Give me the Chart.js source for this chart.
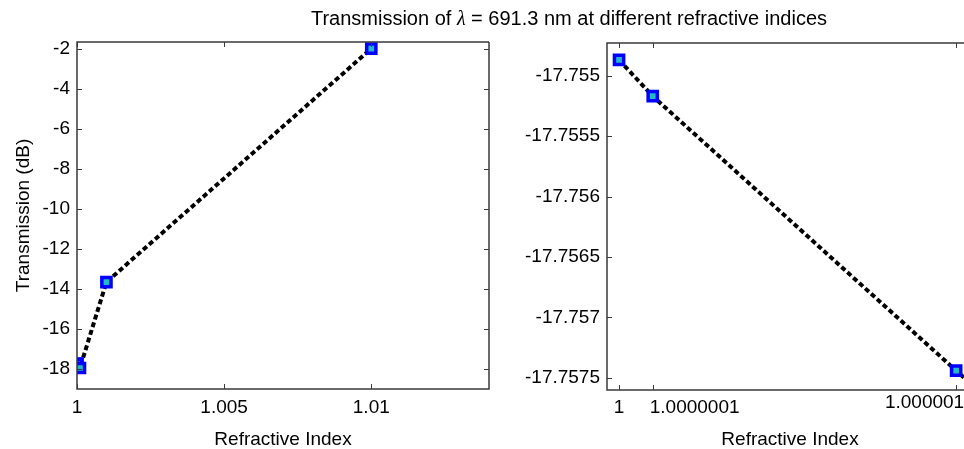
<!DOCTYPE html>
<html>
<head>
<meta charset="utf-8">
<script src="https://cdn.jsdelivr.net/npm/chart.js@4.4.1/dist/chart.umd.min.js"></script>
<style>
  html, body { margin:0; padding:0; background:#fff; width:964px; height:449px; overflow:hidden; }
  #wrap { position:relative; width:964px; height:449px; overflow:hidden; }
  #c1 { position:absolute; left:0; top:0; }
  #c2 { position:absolute; left:500px; top:0; }
  #title { position:absolute; left:0; width:1138px; top:7px; text-align:center;
           font-family:"Liberation Sans", Arial, sans-serif; font-size:20px; color:#000; white-space:nowrap; }
  #title .lam { font-family:"Liberation Serif", serif; font-style:italic; }
</style>
</head>
<body>
<div id="wrap">
  <canvas id="c1" width="500" height="449"></canvas>
  <canvas id="c2" width="500" height="449"></canvas>
  <div id="title">Transmission of <span class="lam">λ</span> = 691.3 nm at different refractive indices</div>
</div>
<script>
// ---- data ----
const refractiveIndex = [1, 1.0000001, 1.000001, 1.00001, 1.0001, 1.001, 1.01];
const transmissionDb  = [-17.75487, -17.75517, -17.75744, -17.78, -17.97, -13.67, -1.98];

const leftXTicks   = [1, 1.005, 1.01];
const leftXLabels  = ['1', '1.005', '1.01'];
const leftYTicks   = [-18, -16, -14, -12, -10, -8, -6, -4, -2];
const leftYLabels  = ['-18', '-16', '-14', '-12', '-10', '-8', '-6', '-4', '-2'];

const rightXTicks  = [1, 1.0000001, 1.000001];
const rightXLabels = ['1', '1.0000001', '1.000001'];
const rightYTicks  = [-17.7575, -17.757, -17.7565, -17.756, -17.7555, -17.755];
const rightYLabels = ['-17.7575', '-17.757', '-17.7565', '-17.756', '-17.7555', '-17.755'];

const xLabel = 'Refractive Index';
const yLabel = 'Transmission (dB)';

// ---- helpers ----
const FONT = '"Liberation Sans", Arial, sans-serif';
const points = refractiveIndex.map((x, i) => ({ x: x, y: transmissionDb[i] }));

const boxPlugin = {
  id: 'boxTicks',
  afterDraw(chart, args, opts) {
    const { ctx, chartArea: a } = chart;
    const sx = chart.scales.x, sy = chart.scales.y;
    ctx.save();
    ctx.strokeStyle = '#3a3a3a';
    ctx.lineWidth = 1.5;
    ctx.beginPath();
    ctx.moveTo(a.right, a.top); ctx.lineTo(a.left, a.top);
    ctx.lineTo(a.left, a.bottom); ctx.lineTo(a.right, a.bottom);
    if (!opts.noRight) ctx.lineTo(a.right, a.top);
    ctx.stroke();
    ctx.lineWidth = 1;
    const L = 5;
    ctx.beginPath();
    sx.ticks.forEach(t => {
      const p = Math.round(sx.getPixelForValue(t.value)) + 0.5;
      ctx.moveTo(p, a.bottom); ctx.lineTo(p, a.bottom - L);
      ctx.moveTo(p, a.top); ctx.lineTo(p, a.top + L);
    });
    sy.ticks.forEach(t => {
      const p = Math.round(sy.getPixelForValue(t.value)) + 0.5;
      ctx.moveTo(a.left, p); ctx.lineTo(a.left + L, p);
      if (!opts.noRight) { ctx.moveTo(a.right, p); ctx.lineTo(a.right - L, p); }
    });
    ctx.stroke();
    // custom-aligned x tick labels (MATLAB-style shifting to avoid overlap)
    if (opts.xLabels) {
      ctx.fillStyle = '#000';
      ctx.font = '19px ' + FONT;
      ctx.textBaseline = 'middle';
      sx.ticks.forEach((t, i) => {
        const p = sx.getPixelForValue(t.value);
        ctx.textAlign = opts.aligns[i];
        ctx.fillText(opts.xLabels[i], p + opts.dx[i], a.bottom + opts.dy[i]);
      });
    }
    ctx.restore();
  }
};

function makeChart(id, cfg) {
  return new Chart(document.getElementById(id), {
    type: 'line',
    data: {
      datasets: [{
        data: points,
        borderColor: '#000',
        borderWidth: 4,
        borderDash: [5, 3],
        pointStyle: 'rect',
        pointRadius: 6.5,
        pointBorderWidth: 3.5,
        pointBorderColor: '#0000ff',
        pointBackgroundColor: '#22b8c8',
        tension: 0
      }]
    },
    options: {
      responsive: false,
      animation: false,
      events: [],
      layout: { padding: cfg.padding, autoPadding: false },
      plugins: { legend: { display: false }, tooltip: { enabled: false }, boxTicks: cfg.custom || {} },
      scales: {
        x: {
          type: 'linear',
          min: cfg.xMin, max: cfg.xMax,
          grid: { display: false, drawTicks: false },
          border: { display: false },
          afterBuildTicks: s => { s.ticks = cfg.xTicks.map(v => ({ value: v })); },
          afterFit: s => { s.height = cfg.xHeight; },
          ticks: {
            autoSkip: false, maxRotation: 0, padding: 7, color: '#000',
            font: { family: FONT, size: 19 },
            callback: (v, i) => cfg.custom ? '' : cfg.xLabels[i]
          },
          title: { display: true, text: xLabel, color: '#000', font: { family: FONT, size: 19 }, padding: { top: 4, bottom: -2 } }
        },
        y: {
          type: 'linear',
          min: cfg.yMin, max: cfg.yMax,
          grid: { display: false, drawTicks: false },
          border: { display: false },
          afterBuildTicks: s => { s.ticks = cfg.yTicks.map(v => ({ value: v })); },
          afterFit: s => { s.width = cfg.yWidth; },
          ticks: {
            autoSkip: false, padding: 7, color: '#000',
            font: { family: FONT, size: 19 },
            callback: (v, i) => cfg.yLabels[i]
          },
          title: { display: cfg.yTitle, text: yLabel, color: '#000', font: { family: FONT, size: 19 }, padding: { top: 12, bottom: 0 } }
        }
      }
    },
    plugins: [boxPlugin]
  });
}

makeChart('c1', {
  padding: { top: 42, right: 11, bottom: 0, left: 0 },
  xMin: 1, xMax: 1.014, yMin: -19.02, yMax: -1.65,
  xTicks: leftXTicks, xLabels: leftXLabels, yTicks: leftYTicks, yLabels: leftYLabels,
  xHeight: 60, yWidth: 77, yTitle: true
});

makeChart('c2', {
  padding: { top: 43, right: 27, bottom: 0, left: 0 },
  xMin: 0.9999999643, xMax: 1.00000105, yMin: -17.75760, yMax: -17.75473,
  xTicks: rightXTicks, xLabels: rightXLabels, yTicks: rightYTicks, yLabels: rightYLabels,
  xHeight: 59, yWidth: 107, yTitle: false,
  custom: { noRight: true, xLabels: rightXLabels, aligns: ['center', 'left', 'right'], dx: [0, -3, 8], dy: [18, 18, 13] }
});
</script>
</body>
</html>
